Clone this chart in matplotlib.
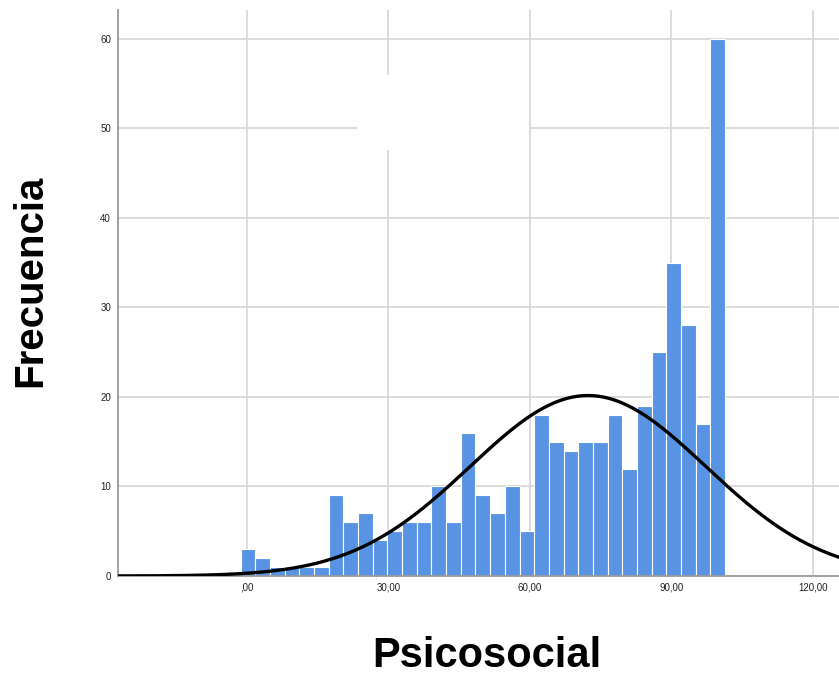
import numpy as np
import matplotlib
matplotlib.use("Agg")
import matplotlib.pyplot as plt
from matplotlib.patches import Rectangle

# counts per bin (left to right)
counts = [3, 2, 1, 1, 1, 1, 9, 6, 7, 4, 5, 6, 6, 10, 6, 16,
          9, 7, 10, 5, 18, 15, 14, 15, 15, 18, 12, 19, 25, 35, 28, 17, 60]
bin_lo = -1.3
bin_width = 3.11
curve_mean = 72.3
curve_sd = 25.0
xticks = [0, 30, 60, 90, 120]
xtick_labels = [",00", "30,00", "60,00", "90,00", "120,00"]
yticks = [0, 10, 20, 30, 40, 50, 60]

plt.rcParams['font.family'] = ['Liberation Sans', 'DejaVu Sans']

fig = plt.figure(figsize=(8.39, 6.77), dpi=100)
ax = fig.add_axes([118 / 839, 101 / 677, 1 - 118 / 839, 566 / 677])

edges = bin_lo + bin_width * np.arange(len(counts) + 1)
ax.bar(edges[:-1], counts, width=bin_width, align='edge',
       color='#5894e3', edgecolor='white', linewidth=0.8, zorder=2)

# normal curve scaled to the histogram
n = sum(counts)
xs = np.linspace(-30, 130, 400)
ys = n * bin_width / (curve_sd * np.sqrt(2 * np.pi)) * np.exp(-0.5 * ((xs - curve_mean) / curve_sd) ** 2)
ax.plot(xs, ys, color='black', linewidth=2.4, zorder=3)

ax.set_xlim(-27.3, 125.5)
ax.set_ylim(0, 63.2)
ax.set_xticks(xticks)
ax.set_xticklabels(xtick_labels)
ax.set_yticks(yticks)
ax.tick_params(length=0, labelsize=7, colors='#222222', pad=5)
ax.grid(True, color='#d6d6d6', linewidth=1.2, zorder=0)
ax.set_axisbelow(True)

# blank patch left where the legend box was removed
ax.add_patch(Rectangle((23.3, 47.6), 36.5, 8.3, facecolor='white',
                       edgecolor='none', zorder=1))

for side in ['top', 'right']:
    ax.spines[side].set_visible(False)
for side in ['left', 'bottom']:
    ax.spines[side].set_color('#9a9a9a')
    ax.spines[side].set_linewidth(1.3)

fig.text(30 / 839, 1 - 281 / 677, "Frecuencia", rotation=90, fontsize=29,
         fontweight='bold', ha='center', va='center')
fig.text(487 / 839, 1 - 656 / 677, "Psicosocial", fontsize=30,
         fontweight='bold', ha='center', va='center')

fig.savefig("out.png", dpi=100)
